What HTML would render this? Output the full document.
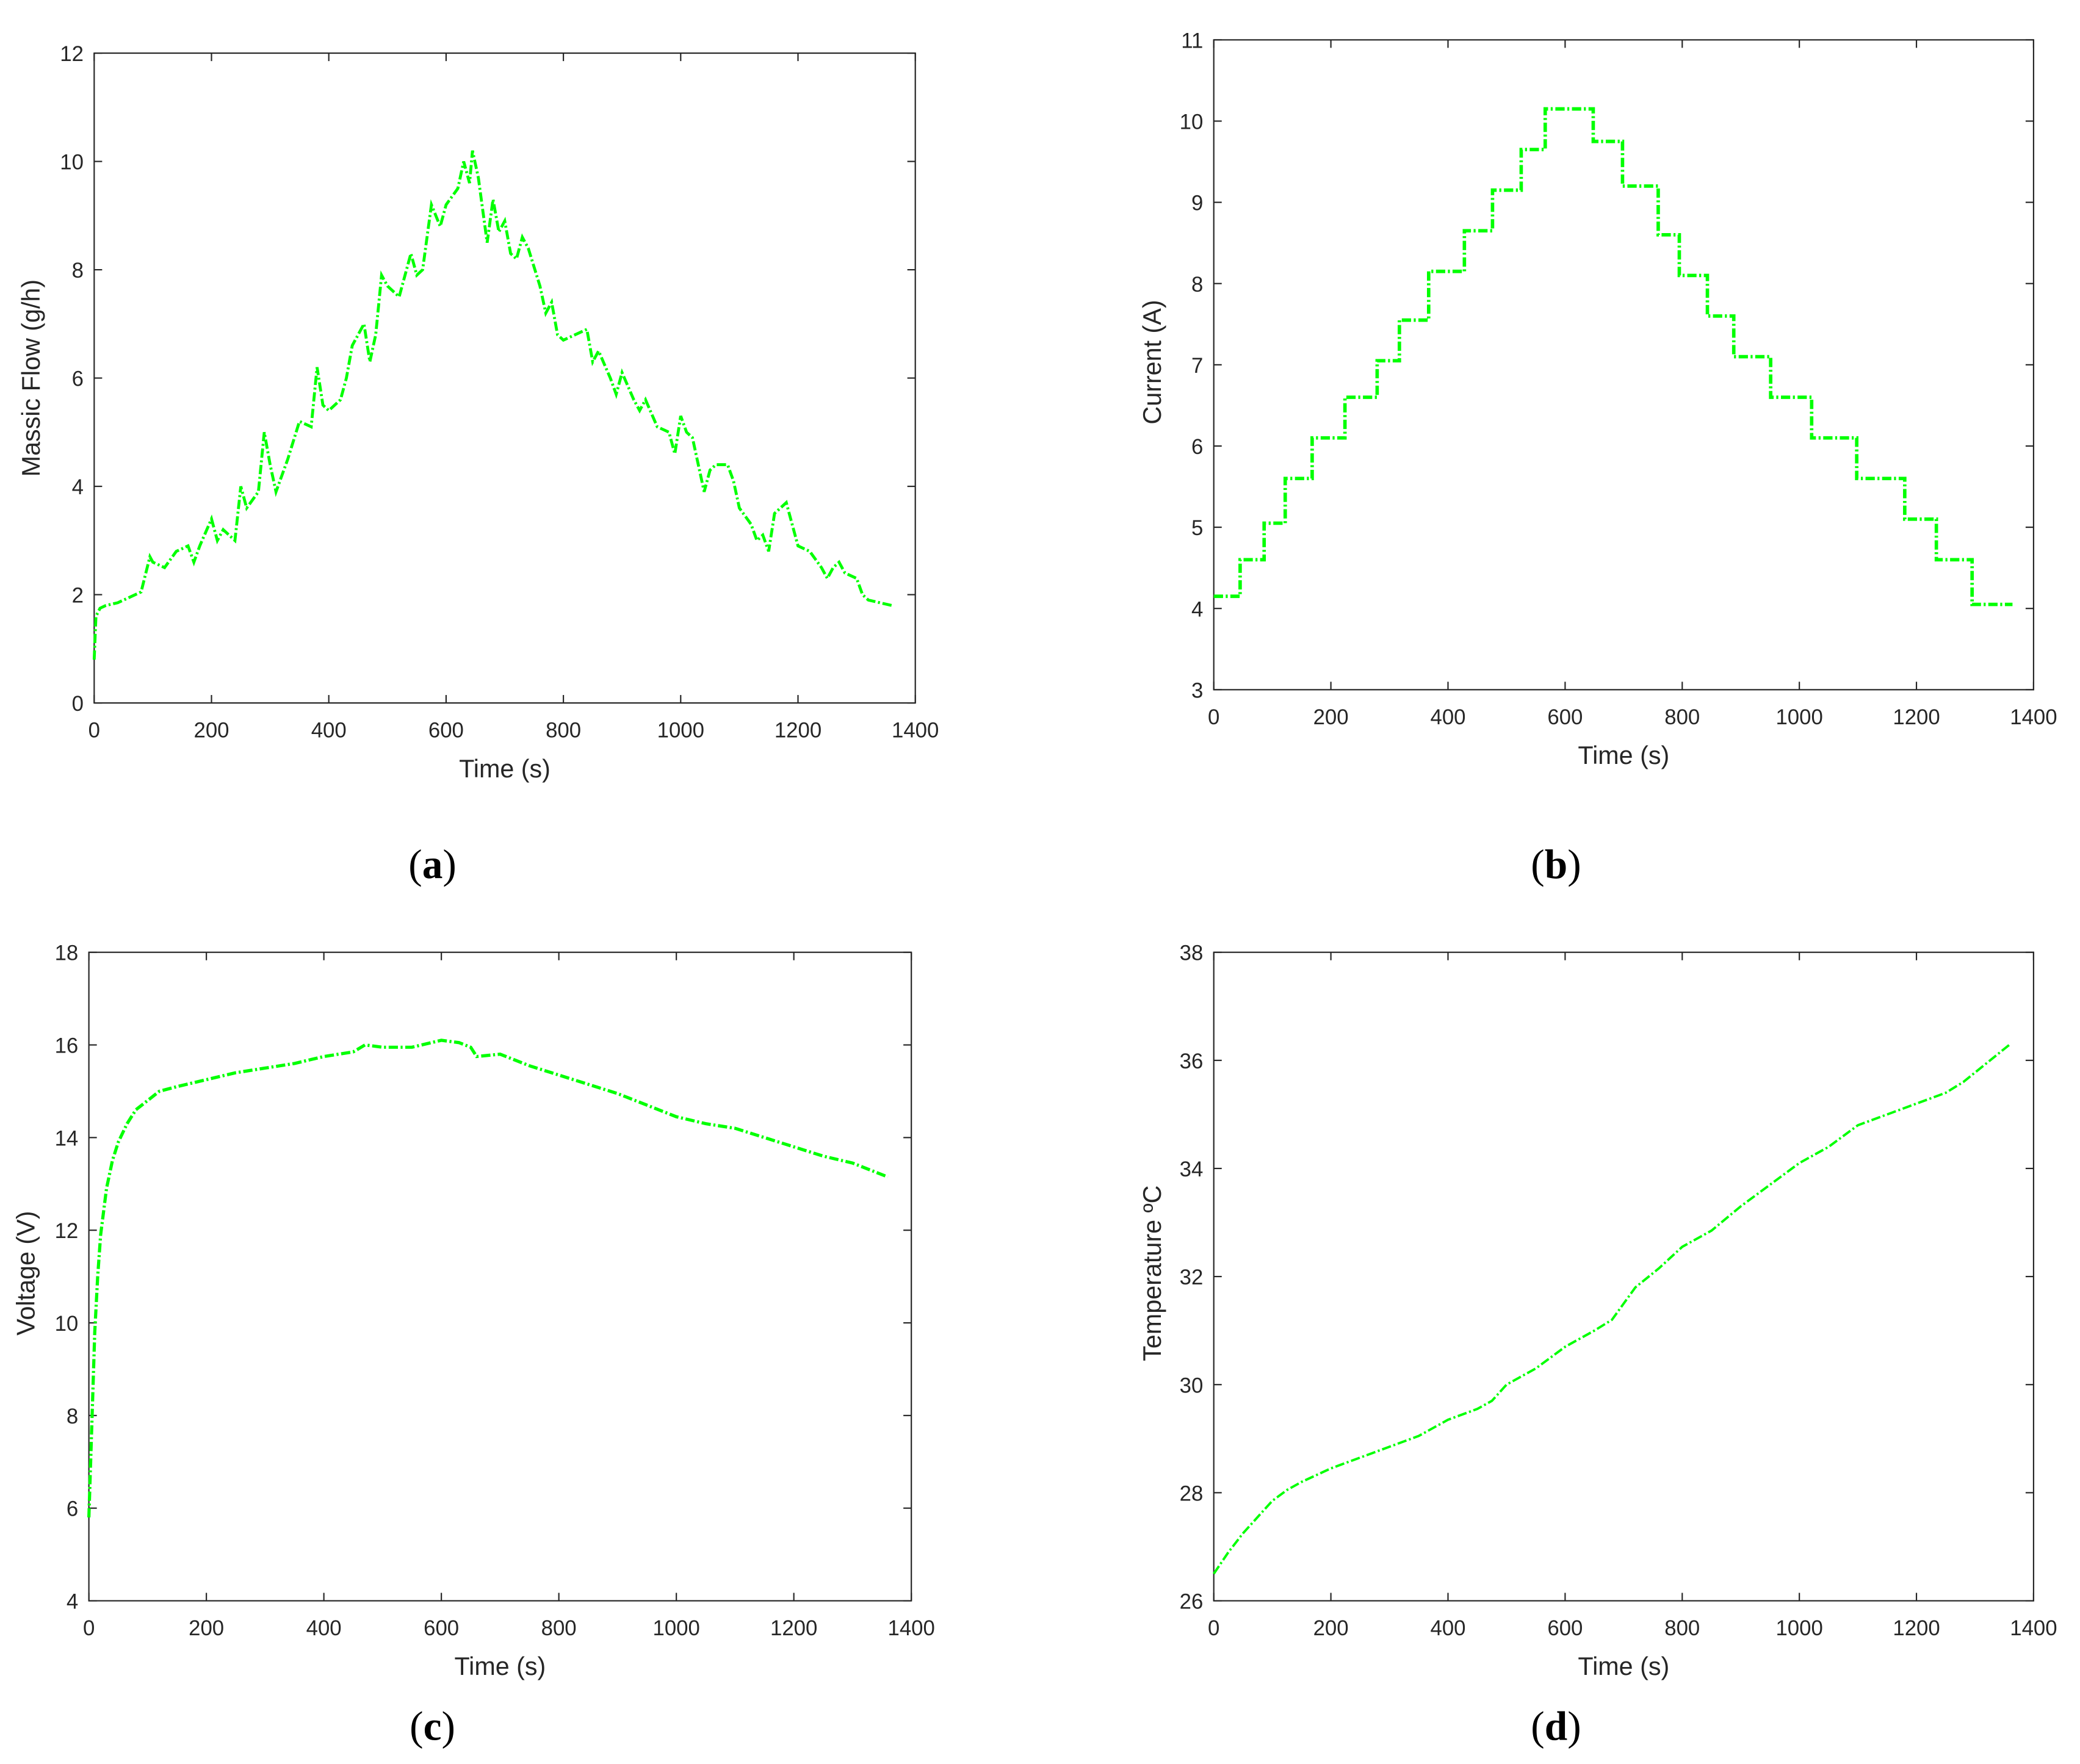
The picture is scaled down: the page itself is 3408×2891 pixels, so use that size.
<!DOCTYPE html>
<html><head><meta charset="utf-8"><style>
html,body{margin:0;padding:0;background:#fff;}
svg{display:block;}
text{font-family:"Liberation Sans",sans-serif;fill:#262626;}
.lab{font-family:"Liberation Serif",serif;fill:#000;}
</style></head><body>
<svg id="fig" width="3408" height="2891" viewBox="0 0 1568 1330" xmlns="http://www.w3.org/2000/svg"></svg>
<script>
// Panel (a) massic flow
const aTimes = [0,3,10,20,40,50,60,80,95,100,120,140,160,170,180,200,210,220,240,250,260,280,290,300,310,330,350,370,380,390,400,420,430,440,460,470,480,490,500,520,540,550,560,575,590,600,620,630,640,645,655,670,680,690,700,710,720,730,740,760,770,780,790,800,820,840,850,860,880,890,900,920,930,940,960,980,990,1000,1010,1020,1040,1050,1060,1080,1090,1100,1120,1130,1140,1150,1160,1180,1190,1200,1220,1240,1250,1260,1270,1280,1300,1310,1320,1340,1360];
const aVals = [0.8,1.6,1.75,1.8,1.85,1.9,1.95,2.05,2.7,2.6,2.5,2.8,2.9,2.6,2.9,3.4,3.0,3.2,3.0,4.0,3.6,3.9,5.0,4.4,3.9,4.5,5.2,5.1,6.2,5.5,5.4,5.6,6.0,6.6,7.0,6.3,6.8,7.9,7.7,7.5,8.3,7.9,8.0,9.2,8.8,9.2,9.5,10.0,9.6,10.2,9.7,8.5,9.3,8.7,8.9,8.3,8.2,8.6,8.4,7.7,7.2,7.4,6.8,6.7,6.8,6.9,6.3,6.5,6.0,5.7,6.1,5.6,5.4,5.6,5.1,5.0,4.6,5.3,5.0,4.9,3.9,4.3,4.4,4.4,4.1,3.6,3.3,3.0,3.1,2.8,3.5,3.7,3.3,2.9,2.8,2.5,2.3,2.5,2.6,2.4,2.3,2.0,1.9,1.85,1.8];
// Panel (b) current (step levels)
const bSteps = [0,45,86,122,168,224,279,317,367,428,476,525,566,648,698,759,795,843,888,951,1021,1098,1180,1234,1295,1364];
const bVals = [4.15,4.6,5.05,5.6,6.1,6.6,7.05,7.55,8.15,8.65,9.15,9.65,10.15,9.75,9.2,8.6,8.1,7.6,7.1,6.6,6.1,5.6,5.1,4.6,4.05];
// Panel (c) voltage
const cTimes = [0,3,6,10,15,20,30,40,50,65,80,100,120,150,200,250,300,350,400,450,470,500,550,600,630,650,660,700,750,800,850,900,950,1000,1050,1100,1150,1200,1250,1300,1360];
const cVals = [5.8,7.0,8.2,9.8,11.0,11.9,12.9,13.5,13.9,14.3,14.6,14.8,15.0,15.1,15.25,15.4,15.5,15.6,15.75,15.85,16.0,15.95,15.95,16.1,16.05,15.95,15.75,15.8,15.55,15.35,15.15,14.95,14.7,14.45,14.3,14.2,14.0,13.8,13.6,13.45,13.15];
// Panel (d) temperature
const dTimes = [0,25,50,75,100,125,150,200,250,300,350,400,450,475,500,550,600,650,680,700,720,760,800,850,900,950,1000,1050,1100,1150,1200,1250,1280,1320,1360];
const dVals = [26.5,26.9,27.25,27.55,27.85,28.05,28.2,28.45,28.65,28.85,29.05,29.35,29.55,29.7,30.0,30.3,30.7,31.0,31.2,31.5,31.8,32.15,32.55,32.85,33.3,33.7,34.1,34.4,34.8,35.0,35.2,35.4,35.6,35.95,36.3];
const xTicks = [0,200,400,600,800,1000,1200,1400];
const aYTicks = [0,2,4,6,8,10,12];
const bYTicks = [3,4,5,6,7,8,9,10,11];
const cYTicks = [4,6,8,10,12,14,16,18];
const dYTicks = [26,28,30,32,34,36,38];

const NS = "http://www.w3.org/2000/svg";
const fig = document.getElementById('fig');
function mk(tag, parent){ const e=document.createElementNS(NS,tag); parent.appendChild(e); return e; }

function panel(id, box, yTicks, ytitle, label, labelPos, titlePos){
  const g = mk('g', fig);
  
  
  const [L,T,R,B] = box;
  const y0=yTicks[0], y1=yTicks[yTicks.length-1];
  const sx = v => L + (v-0)/1400*(R-L);
  const sy = v => B - (v-y0)/(y1-y0)*(B-T);
  const rect = mk('rect', g);
  
  
  rect.setAttribute('x',L); rect.setAttribute('y',T); rect.setAttribute('width',R-L); rect.setAttribute('height',B-T);
  rect.setAttribute('fill','#fff'); rect.setAttribute('stroke','#262626'); rect.setAttribute('stroke-width','1');
  xTicks.forEach(t=>{
    const x=sx(t);
    const l1=mk('line',g); l1.setAttribute('x1',x);l1.setAttribute('x2',x);l1.setAttribute('y1',B);l1.setAttribute('y2',B-6);l1.setAttribute('stroke','#262626');
    const l2=mk('line',g); l2.setAttribute('x1',x);l2.setAttribute('x2',x);l2.setAttribute('y1',T);l2.setAttribute('y2',T+6);l2.setAttribute('stroke','#262626');
    const tx=mk('text',g);
    
    
    tx.setAttribute('x',x); tx.setAttribute('y',B+26); tx.setAttribute('text-anchor','middle'); tx.setAttribute('font-size','16');
    tx.textContent=t;
  });
  yTicks.forEach(t=>{
    const y=sy(t);
    const l1=mk('line',g); l1.setAttribute('x1',L);l1.setAttribute('x2',L+6);l1.setAttribute('y1',y);l1.setAttribute('y2',y);l1.setAttribute('stroke','#262626');
    const l2=mk('line',g); l2.setAttribute('x1',R);l2.setAttribute('x2',R-6);l2.setAttribute('y1',y);l2.setAttribute('y2',y);l2.setAttribute('stroke','#262626');
    const tx=mk('text',g);
    
    
    tx.setAttribute('x',L-8); tx.setAttribute('y',y+6); tx.setAttribute('text-anchor','end'); tx.setAttribute('font-size','16');
    tx.textContent=t;
  });
  const xt=mk('text',g);
  
  
  xt.setAttribute('x',(L+R)/2); xt.setAttribute('y',B+56); xt.setAttribute('text-anchor','middle'); xt.setAttribute('font-size','19');
  xt.textContent='Time (s)';
  const yt=mk('text',g);
  
  
  yt.setAttribute('transform','translate('+titlePos[0]+','+titlePos[1]+') rotate(-90)');
  yt.setAttribute('text-anchor','middle'); yt.setAttribute('font-size','19');
  yt.textContent=ytitle;
  const lb=mk('text',g);
  
  
  lb.setAttribute('class','lab');
  lb.setAttribute('x',labelPos[0]); lb.setAttribute('y',labelPos[1]); lb.setAttribute('text-anchor','middle'); lb.setAttribute('font-size','31');
  lb.innerHTML='(<tspan font-weight="bold">'+label+'</tspan>)';
  return {g,sx,sy};
}

function drawLine(p, xs, ys, name, w){
  const pl = mk('polyline', p.g);
  
  
  pl.setAttribute('points', xs.map((x,i)=>p.sx(x).toFixed(2)+','+p.sy(ys[i]).toFixed(2)).join(' '));
  pl.setAttribute('fill','none'); pl.setAttribute('stroke','#00ff00'); pl.setAttribute('stroke-width',w);
  pl.setAttribute('stroke-dasharray','7 2 1.5 2');
}

const pa = panel('a',[71,40,690,530],aYTicks,'Massic Flow (g/h)','a',[326,662],[30,285]);
drawLine(pa, aTimes, aVals, 'massic-flow-series', 2.2);

const pb = panel('b',[915,30,1533,520],bYTicks,'Current (A)','b',[1173,662],[875,273]);
const bx=[], by=[];
bVals.forEach((v,i)=>{ bx.push(bSteps[i]); by.push(v); bx.push(bSteps[i+1]); by.push(v); });
drawLine(pb, bx, by, 'current-series', 2.6);

const pc = panel('c',[67,718,687,1207],cYTicks,'Voltage (V)','c',[326,1312],[26,960]);
drawLine(pc, cTimes, cVals, 'voltage-series', 2.4);

const pd = panel('d',[915,718,1533,1207],dYTicks,'Temperature ºC','d',[1173,1312],[875,960]);
drawLine(pd, dTimes, dVals, 'temperature-series', 1.8);
</script>
</body></html>
